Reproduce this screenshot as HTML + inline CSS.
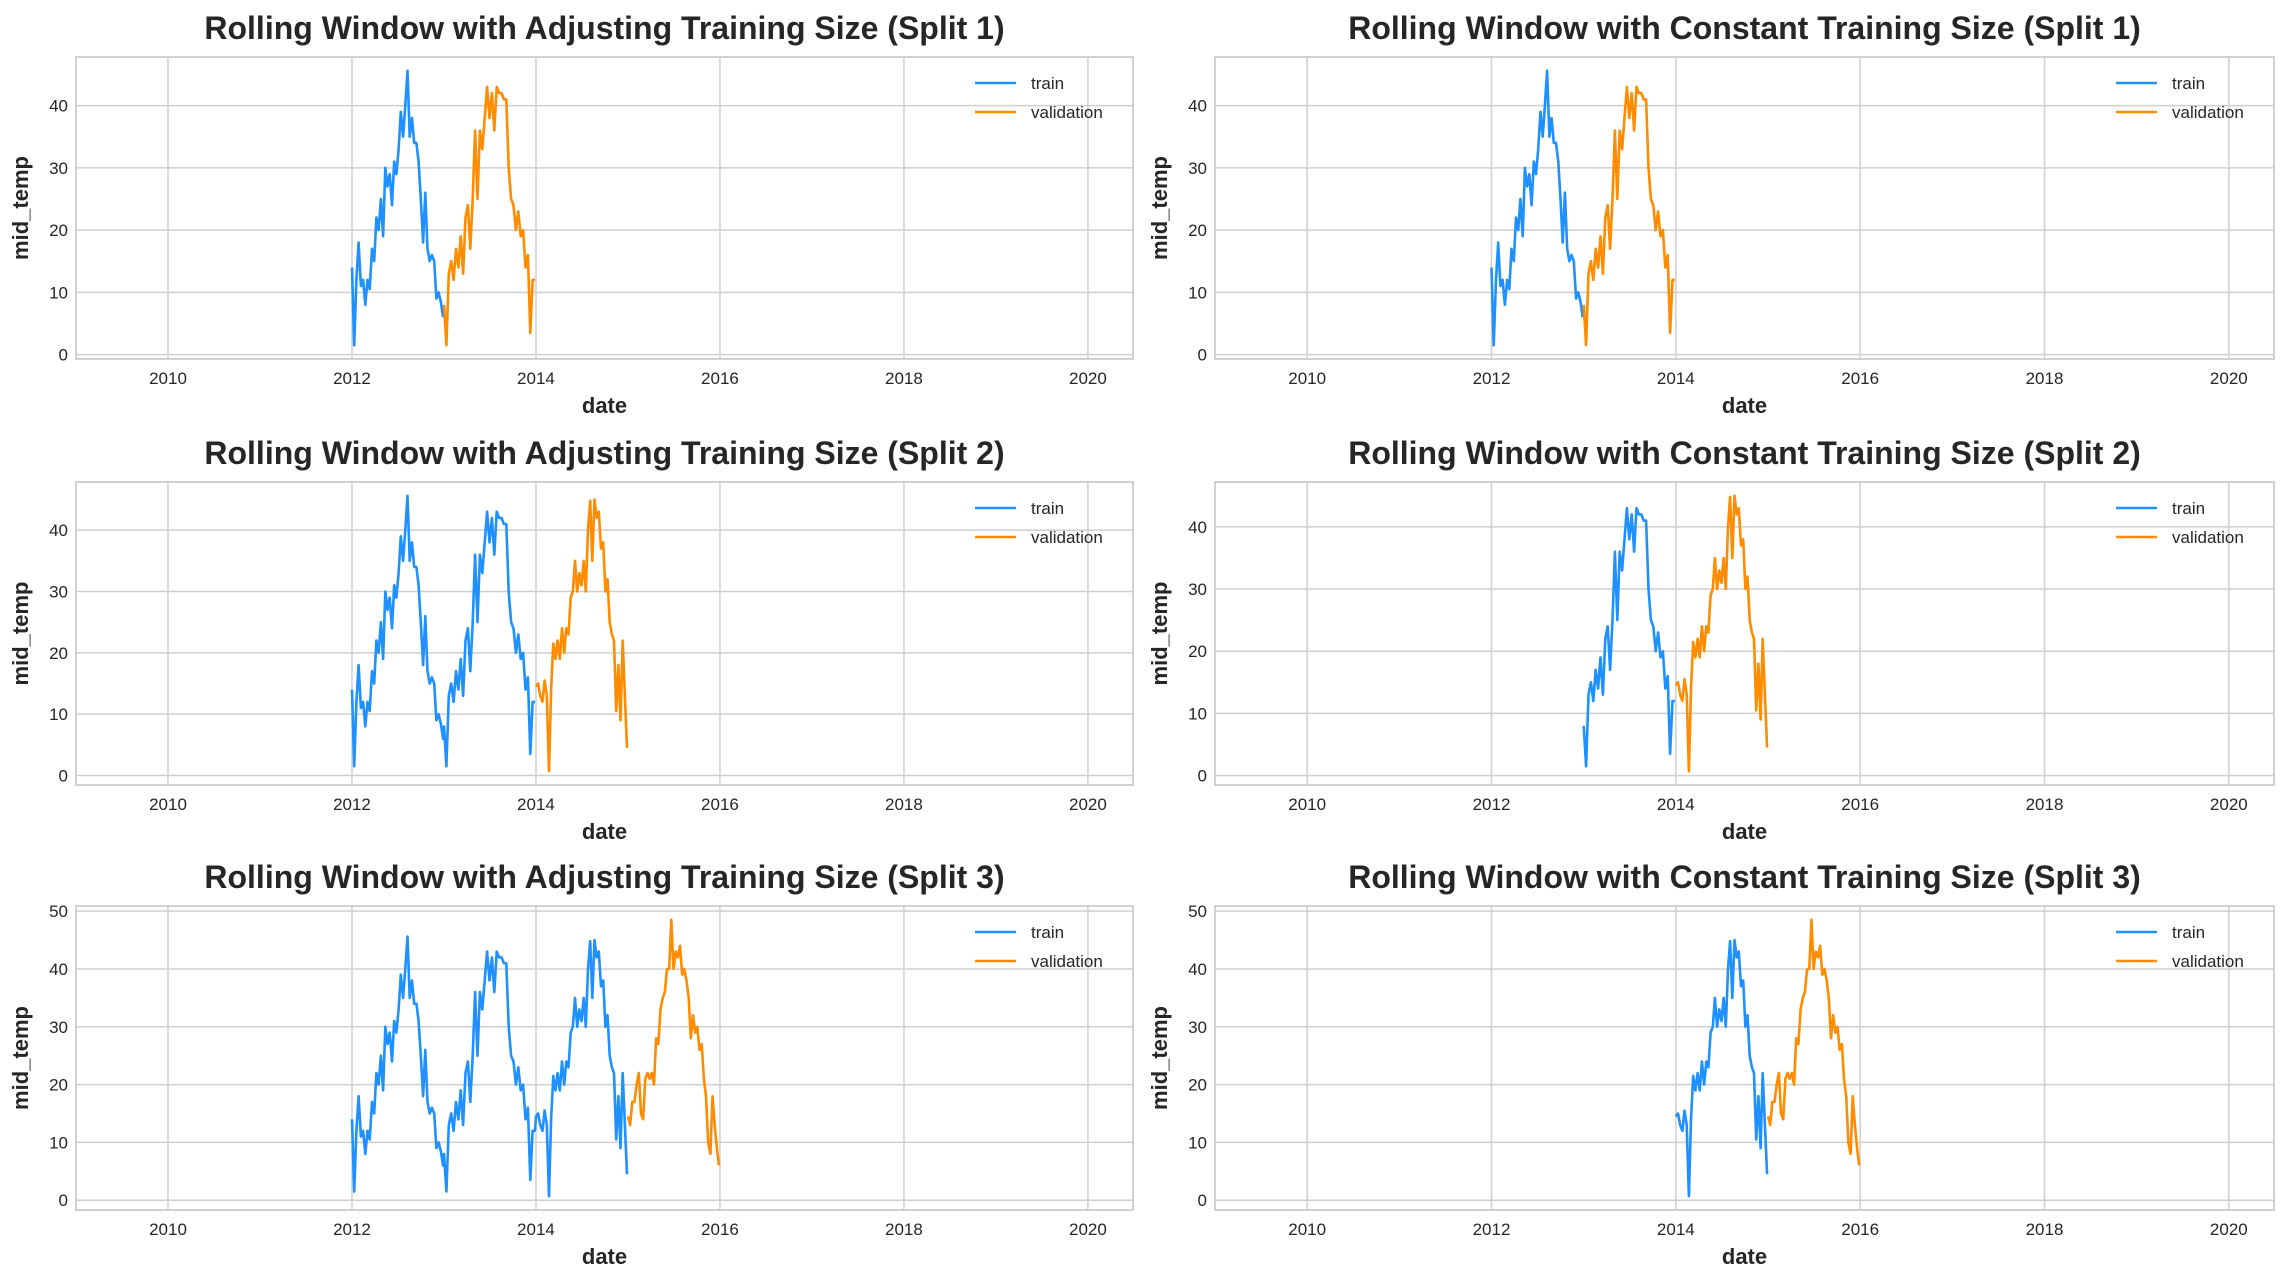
<!DOCTYPE html>
<html><head><meta charset="utf-8"><style>
html,body{margin:0;padding:0;background:#fff;}
svg{display:block;font-family:"Liberation Sans",Arial,sans-serif;}
</style></head><body>
<svg id="fig" width="2289" height="1281" viewBox="0 0 2289 1281" xmlns="http://www.w3.org/2000/svg"></svg>
<script>
// ---- data (mid_temp, roughly weekly readings per year) ----
const temps2012 = [14,1.5,12,18,11,12,8,12,10.5,17,15,22,20,25,19,30,27,29,24,31,29,33,39,35,40,45.6,35,38,34,34,31,25,18,26,17,15,16,15,9,10,8.5,6];
const temps2013 = [8,1.5,13,15,12,17,14,19,13,22,24,17,25,36,25,36,33,38,43,38,42,36,43,42,42,41,41,30,25,24,20,23,19,20,14,16,3.5,12,12];
const temps2014 = [14.5,15,13,12,15.5,13,0.7,14,21.5,19,22,19,24,20,24,23,29,30,35,30,33,31,35,30,40,44.8,35,45,42,43,37,38,30,32,25,23,22,10.5,18,9,22,13,4.5];
const temps2015 = [14.5,13,17,17,20,22,15,14,21,22,21,22,20,28,27,33,35,36,40,40,48.5,40,43,42,44,39,40,38,35,28,32,29,30,26,27,21,18,10,8,18,13,9,6];
const years = [2012,2013,2014,2015];
const xTicks = [2010,2012,2014,2016,2018,2020];
const xLimits = [2009.0, 2020.49];
const titles = ["Rolling Window with Adjusting Training Size (Split 1)","Rolling Window with Constant Training Size (Split 1)",
 "Rolling Window with Adjusting Training Size (Split 2)","Rolling Window with Constant Training Size (Split 2)",
 "Rolling Window with Adjusting Training Size (Split 3)","Rolling Window with Constant Training Size (Split 3)"];
const trainYears = [[2012],[2012],[2012,2013],[2013],[2012,2013,2014],[2014]];
const valYears = [[2013],[2013],[2014],[2014],[2015],[2015]];

const NS="http://www.w3.org/2000/svg";
const fig=document.getElementById('fig');
function mk(tag,attrs,parent){const e=document.createElementNS(NS,tag);for(const k in attrs)e.setAttribute(k,attrs[k]);(parent||fig).appendChild(e);return e;}
const series={2012:temps2012,2013:temps2013,2014:temps2014,2015:temps2015};
function pts(yrs){const out=[];yrs.forEach(y=>{const a=series[y];a.forEach((v,i)=>out.push([y+i/(a.length-1)*0.99,v]));});return out;}

const cols=[[76,1133],[1215,2274]];
const rows=[[57,359],[482,785],[906,1210]];
for(let p=0;p<6;p++){
  const c=cols[p%2], r=rows[Math.floor(p/2)];
  const g=mk('g',{});
  
  
  const tr=pts(trainYears[p]), va=pts(valYears[p]);
  const all=tr.concat(va).map(d=>d[1]);
  const mn=Math.min(...all), mx=Math.max(...all), m=(mx-mn)*0.05;
  const y0=mn-m, y1=mx+m;
  const X=v=>c[0]+(v-xLimits[0])/(xLimits[1]-xLimits[0])*(c[1]-c[0]);
  const Y=v=>r[1]-(v-y0)/(y1-y0)*(r[1]-r[0]);
  xTicks.forEach(t=>{
    const l=mk('line',{x1:X(t),x2:X(t),y1:r[0],y2:r[1],stroke:'#cfcfcf','stroke-width':1.5},g);
    
    const tx=mk('text',{x:X(t),y:r[1]+25,'font-size':17,'text-anchor':'middle',fill:'#262626'},g);tx.textContent=t;
    
  });
  for(let t=0;t<=y1;t+=10){
    const l=mk('line',{x1:c[0],x2:c[1],y1:Y(t),y2:Y(t),stroke:'#cfcfcf','stroke-width':1.5},g);
    
    const tx=mk('text',{x:c[0]-8,y:Y(t)+6,'font-size':17,'text-anchor':'end',fill:'#262626'},g);tx.textContent=t;
    
  }
  const fr=mk('rect',{x:c[0],y:r[0],width:c[1]-c[0],height:r[1]-r[0],fill:'none',stroke:'#cccccc','stroke-width':1.8},g);
  
  const lt=mk('polyline',{points:tr.map(d=>X(d[0]).toFixed(1)+','+Y(d[1]).toFixed(1)).join(' '),fill:'none',stroke:'#1e90ff','stroke-width':2.6,'stroke-linejoin':'round'},g);
  
  const lv=mk('polyline',{points:va.map(d=>X(d[0]).toFixed(1)+','+Y(d[1]).toFixed(1)).join(' '),fill:'none',stroke:'#ff8c00','stroke-width':2.6,'stroke-linejoin':'round'},g);
  
  const cx=(c[0]+c[1])/2;
  const ti=mk('text',{x:cx,y:r[0]-18,'font-size':32,'font-weight':'bold','text-anchor':'middle',fill:'#262626'},g);ti.textContent=titles[p];
  
  const xl=mk('text',{x:cx,y:r[1]+54,'font-size':22,'font-weight':'bold','text-anchor':'middle',fill:'#262626'},g);xl.textContent='date';
  
  const ym=(r[0]+r[1])/2;
  const yl=mk('text',{x:0,y:0,'font-size':22,'font-weight':'bold','text-anchor':'middle',fill:'#262626',transform:`translate(${c[0]-48},${ym}) rotate(-90)`},g);yl.textContent='mid_temp';
  
  const lx=c[1]-158;
  [['train','#1e90ff',26],['validation','#ff8c00',55]].forEach(([n,col,dy])=>{
    const ll=mk('line',{x1:lx,x2:lx+41,y1:r[0]+dy,y2:r[0]+dy,stroke:col,'stroke-width':2.6},g);
    
    const lt2=mk('text',{x:lx+56,y:r[0]+dy+6,'font-size':17,fill:'#262626'},g);lt2.textContent=n;
    
  });
}
</script>
</body></html>
